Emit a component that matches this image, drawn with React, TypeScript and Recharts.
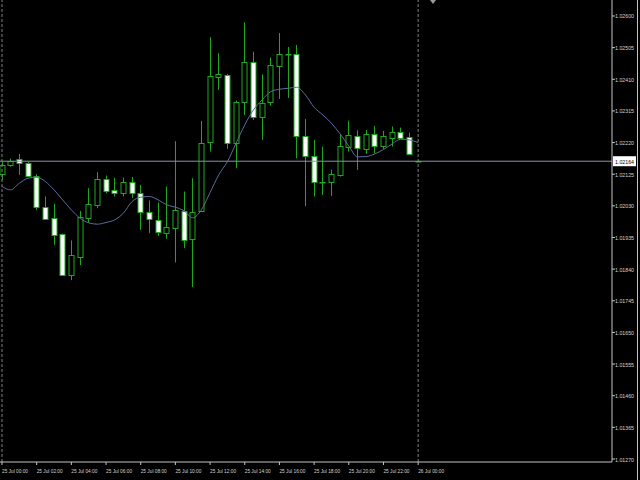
import { ComposedChart, Bar, Line, XAxis, YAxis, ReferenceLine } from "recharts";

// 30-minute candles, 25 Jul 00:00 .. 26 Jul 00:00
const OPEN = [
  1.02126, 1.02152, 1.02172, 1.02159, 1.02121, 1.02027, 1.01993, 1.01945, 1.01821, 1.01877,
  1.01993, 1.02034, 1.0211, 1.02079, 1.02069, 1.02102, 1.0207, 1.02011, 1.01988, 1.01948,
  1.01964, 1.02016, 1.0193, 1.02015, 1.02221, 1.02417, 1.02424, 1.02218, 1.02342, 1.02463,
  1.02298, 1.02342, 1.02451, 1.02485, 1.02485, 1.02241, 1.02181, 1.02101, 1.02101, 1.02124,
  1.02206, 1.02241, 1.02201, 1.02246, 1.02211, 1.02235, 1.02252, 1.02236, 1.02164,
];
const HIGH = [
  1.02162, 1.02172, 1.02186, 1.02162, 1.02125, 1.02058, 1.02036, 1.01947, 1.01926, 1.02015,
  1.02083, 1.02131, 1.02121, 1.02114, 1.02115, 1.02117, 1.02093, 1.02046, 1.0204, 1.02088,
  1.02224, 1.02073, 1.02113, 1.02285, 1.02536, 1.02488, 1.02426, 1.02346, 1.02581, 1.02493,
  1.02425, 1.02475, 1.02549, 1.02507, 1.02513, 1.02291, 1.02228, 1.02208, 1.02139, 1.02243,
  1.02286, 1.02257, 1.02258, 1.0227, 1.02255, 1.02268, 1.02265, 1.0225, 1.02166,
];
const LOW = [
  1.02108, 1.02148, 1.02123, 1.02118, 1.02018, 1.01988, 1.01913, 1.01819, 1.01807, 1.01852,
  1.01979, 1.02023, 1.02068, 1.02058, 1.02058, 1.02054, 1.01958, 1.01948, 1.0194, 1.01931,
  1.0186, 1.01903, 1.01786, 1.02012, 1.02193, 1.02378, 1.02201, 1.02143, 1.02303, 1.02288,
  1.02228, 1.02331, 1.02351, 1.02354, 1.02173, 1.02029, 1.02058, 1.02063, 1.0206, 1.02118,
  1.02193, 1.02138, 1.02186, 1.02188, 1.02201, 1.02208, 1.02232, 1.02184, 1.02163,
];
const CLOSE = [
  1.02153, 1.02164, 1.02158, 1.02121, 1.02026, 1.01992, 1.01943, 1.01822, 1.01882, 1.01996,
  1.02035, 1.0211, 1.02074, 1.02069, 1.02102, 1.02069, 1.02012, 1.0199, 1.01952, 1.01966,
  1.02019, 1.01926, 1.02013, 1.02218, 1.02419, 1.02425, 1.02218, 1.02343, 1.02463, 1.02296,
  1.02338, 1.02452, 1.02485, 1.02486, 1.02241, 1.02181, 1.02101, 1.02102, 1.02125, 1.0221,
  1.02244, 1.02203, 1.02247, 1.0221, 1.02239, 1.02253, 1.02234, 1.02186, 1.02164,
];
const MA = [
  1.02088, 1.02078, 1.02098, 1.02113, 1.02116, 1.02103, 1.02078, 1.02048, 1.02018, 1.01993,
  1.01979, 1.01975, 1.0198, 1.01988, 1.02008, 1.02043, 1.02056, 1.02058, 1.02048, 1.02033,
  1.02026, 1.02015, 1.01994, 1.02018, 1.0207, 1.02123, 1.02163, 1.02218, 1.02273, 1.02318,
  1.02348, 1.02373, 1.0238, 1.02383, 1.02386, 1.02363, 1.02326, 1.02303, 1.02278, 1.02246,
  1.0221, 1.02177, 1.02178, 1.02186, 1.02199, 1.02216, 1.0223, 1.02228, 1.0222,
];

const TIME_TICKS = [0, 4, 8, 12, 16, 20, 24, 28, 32, 36, 40, 44, 48];
const TIME_LABELS = [
  "25 Jul 00:00", "25 Jul 02:00", "25 Jul 04:00", "25 Jul 06:00", "25 Jul 08:00",
  "25 Jul 10:00", "25 Jul 12:00", "25 Jul 14:00", "25 Jul 16:00", "25 Jul 18:00",
  "25 Jul 20:00", "25 Jul 22:00", "26 Jul 00:00",
];
const PRICE_TICKS = [
  1.0127, 1.01365, 1.0146, 1.01555, 1.0165, 1.01745, 1.0184, 1.01935, 1.0203, 1.02125,
  1.0222, 1.02315, 1.0241, 1.02505, 1.026,
];
const LAST_PRICE = 1.02164;
const SEPARATORS = [0, 48];

const GREEN = "#1fa81f";
const TEXT = "#d4d4d4";
const AXIS = "#c4c4c4";
const FONT = "Liberation Sans";

const data = OPEN.map((o, i) => ({
  i,
  o,
  h: HIGH[i],
  l: LOW[i],
  c: CLOSE[i],
  ma: MA[i],
  range: [LOW[i], HIGH[i]],
}));

function Candle(props: any) {
  const { x, y, width, height, payload } = props;
  const { o, h, l, c } = payload;
  const span = h - l;
  const toY = (v: number) => (span === 0 ? y : y + ((h - v) / span) * height);
  const cx = Math.round(x + width / 2) + 0.5;
  const top = Math.round(toY(Math.max(o, c))) + 0.5;
  const bot = Math.round(toY(Math.min(o, c))) + 0.5;
  const bull = c >= o;
  return (
    <g>
      <line x1={cx} x2={cx} y1={y} y2={y + height} stroke={GREEN} strokeWidth={1} />
      <rect
        x={cx - 2.5}
        y={top}
        width={5}
        height={Math.max(bot - top, 0.5)}
        fill={bull ? "#000" : "#fff"}
        stroke={GREEN}
        strokeWidth={1}
      />
    </g>
  );
}

function TimeTick(props: any) {
  const { x, y, payload } = props;
  const idx = TIME_TICKS.indexOf(payload.value);
  return (
    <text
      x={x}
      y={y + 6}
      fill={TEXT}
      fontSize={5.5}
      fontFamily={FONT}
      textAnchor="start"
      textLength={26}
      lengthAdjust="spacingAndGlyphs"
    >
      {TIME_LABELS[idx]}
    </text>
  );
}

function PriceTick(props: any) {
  const { x, y, payload } = props;
  return (
    <text
      x={x}
      y={y + 2.5}
      fill={TEXT}
      fontSize={5.5}
      fontFamily={FONT}
      textAnchor="start"
      textLength={19}
      lengthAdjust="spacingAndGlyphs"
    >
      {payload.value.toFixed(5)}
    </text>
  );
}

function PriceBadge(props: any) {
  const { viewBox } = props;
  const bx = viewBox.x + viewBox.width + 1;
  const by = viewBox.y;
  return (
    <g>
      <rect x={bx} y={by - 5} width={23} height={10} fill="#fff" />
      <text
        x={bx + 2}
        y={by + 2.5}
        fill="#000"
        fontSize={5.5}
        fontFamily={FONT}
        textLength={19}
        lengthAdjust="spacingAndGlyphs"
      >
        {LAST_PRICE.toFixed(5)}
      </text>
    </g>
  );
}

export default function App() {
  return (
    <div
      style={{
        position: "absolute",
        left: 0,
        top: 0,
        width: 640,
        height: 480,
        background: "#000",
        overflow: "hidden",
      }}
    >
      <ComposedChart
        width={640}
        height={480}
        data={data}
        margin={{ top: 0, right: 0, left: 0, bottom: 0 }}
      >
        <XAxis
          dataKey="i"
          type="number"
          domain={[-0.23, 70.36]}
          allowDataOverflow
          ticks={TIME_TICKS}
          interval={0}
          height={18}
          stroke={AXIS}
          tickSize={3}
          tick={<TimeTick />}
        />
        <YAxis
          orientation="right"
          type="number"
          domain={[1.01261, 1.02648]}
          allowDataOverflow
          ticks={PRICE_TICKS}
          interval={0}
          width={28}
          stroke={AXIS}
          tickSize={3}
          tickMargin={0}
          tick={<PriceTick />}
        />
        {SEPARATORS.map((s) => (
          <ReferenceLine key={s} x={s} stroke="#808080" strokeDasharray="3 2" />
        ))}
        <ReferenceLine y={LAST_PRICE} stroke="#8a93aa" label={PriceBadge} />
        <Bar dataKey="range" barSize={6} shape={<Candle />} isAnimationActive={false} />
        <Line
          dataKey="ma"
          type="monotone"
          stroke="#5d6d9f"
          strokeWidth={1}
          dot={false}
          activeDot={false}
          isAnimationActive={false}
        />
      </ComposedChart>
      <svg
        width={640}
        height={480}
        style={{ position: "absolute", left: 0, top: 0, pointerEvents: "none" }}
      >
        <polygon points="430,0 436,0 433,4" fill="#9a9a9a" />
        <line x1={637.5} x2={637.5} y1={0} y2={480} stroke={AXIS} />
      </svg>
    </div>
  );
}
